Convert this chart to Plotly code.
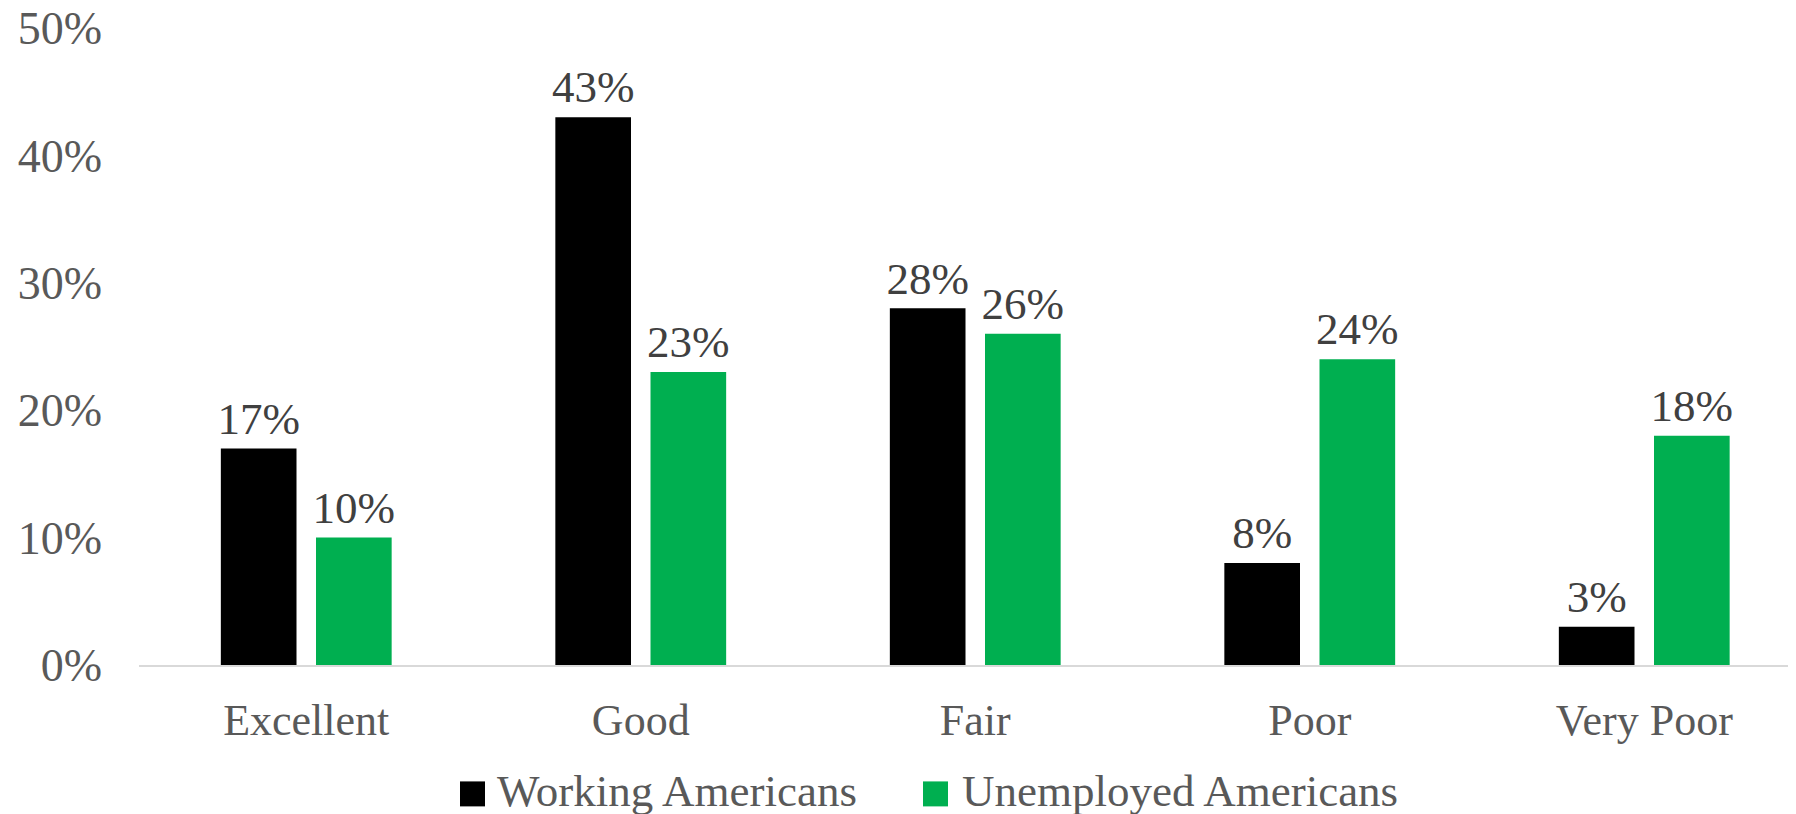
import plotly.graph_objects as go

categories = ["Excellent", "Good", "Fair", "Poor", "Very Poor"]
working = [0.17, 0.43, 0.28, 0.08, 0.03]
unemployed = [0.10, 0.23, 0.26, 0.24, 0.18]
series_names = ["Working Americans", "Unemployed Americans"]
colors = ["#000000", "#00AF50"]
y_ticks = [0, 0.1, 0.2, 0.3, 0.4, 0.5]

FONT = "Liberation Serif"
OFF = 8  # page body margin
W, H = 1796 - OFF, 814 - OFF
left, right_px, top, bottom_px = 139 - OFF, 1796 - OFF, 28 - OFF, 665.5 - OFF
cat_w = 334.5
x_hi = 4.5 - (left + 5 * cat_w - right_px) / cat_w
plot_w = right_px - left
plot_h = bottom_px - top

fig = go.Figure()
for i, (name, vals, col) in enumerate(zip(series_names, [working, unemployed], colors)):
    fig.add_trace(go.Bar(
        name=name, x=categories, y=vals, marker=dict(color=col, line=dict(width=0)),
        offsetgroup=str(i), showlegend=False,
    ))
    fig.add_trace(go.Scatter(
        x=categories, y=vals, mode="markers+text", offsetgroup=str(i),
        text=[f"{round(v*100)}%" for v in vals], textposition="top center",
        marker=dict(size=4, opacity=0), showlegend=False, hoverinfo="skip",
        textfont=dict(family=FONT, size=45, color="#404040"), cliponaxis=False,
    ))

# legend (custom, large swatches)
legend_sw_x = [460 - OFF, 923 - OFF]
legend_txt_x = [495 - OFF, 960 - OFF]
sw_top, sw_bot, txt_mid = 782 - OFF, 807 - OFF, 792 - OFF
for name, col, sx, tx in zip(series_names, colors, legend_sw_x, legend_txt_x):
    fig.add_shape(type="rect", xref="paper", yref="paper",
                  x0=(sx - left) / plot_w, x1=(sx + 25 - left) / plot_w,
                  y0=-(sw_bot - bottom_px) / plot_h, y1=-(sw_top - bottom_px) / plot_h,
                  fillcolor=col, line=dict(width=0))
    fig.add_annotation(text=name, xref="paper", yref="paper",
                       x=(tx - left) / plot_w, xanchor="left",
                       y=-(txt_mid - bottom_px) / plot_h, yanchor="middle", showarrow=False,
                       font=dict(family=FONT, size=45, color="#595959"))

fig.update_layout(
    width=W, height=H,
    margin=dict(l=left, r=W - right_px, t=top, b=H - bottom_px),
    paper_bgcolor="white", plot_bgcolor="white",
    barmode="group", bargap=0.431, bargroupgap=0.205,
    scattermode="group", scattergap=0.431,
    font=dict(family=FONT, size=45, color="#595959"),
    showlegend=False,
    xaxis=dict(range=[-0.5, x_hi], showgrid=False, showline=True, linecolor="#d9d9d9",
               linewidth=1.5, ticks="", ticklabelstandoff=15, automargin=False,
               ticklabeloverflow="allow",
               tickfont=dict(family=FONT, size=44, color="#595959")),
    yaxis=dict(range=[0, 0.5], tickvals=y_ticks, tickformat=".0%", showgrid=False,
               zeroline=False, showline=False, ticks="", ticklabelstandoff=36,
               automargin=False, ticklabeloverflow="allow",
               tickfont=dict(family=FONT, size=46, color="#595959")),
)

fig.write_html("out.html")
